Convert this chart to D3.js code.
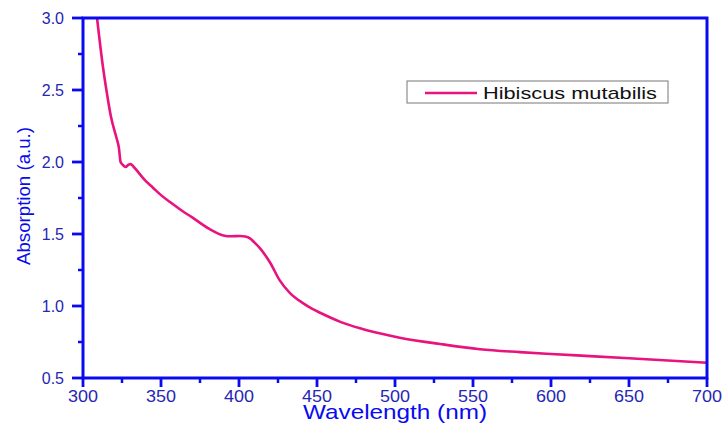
<!DOCTYPE html>
<html lang="en">
<head>
  <meta charset="utf-8">
  <title>Hibiscus mutabilis absorption</title>
  <script src="https://d3js.org/d3.v7.min.js"></script>
  <style>
    body { margin: 0; background: #fff; }
    svg { display: block; font-family: "Liberation Sans", Arial, sans-serif; }
  </style>
</head>
<body>
  <svg width="722" height="423"></svg>
  <script>
    // spectrum
    const wavelength = [309, 312.8, 315, 318, 321.4, 323, 324.1, 325.5, 327.4, 329, 330.6, 333, 340, 345, 350, 356,
      363, 370, 381, 390, 395, 400.6, 404, 407, 410, 413.5, 420, 426, 432.7, 441, 447, 452, 465, 477.6, 490, 503, 529, 554.5,
      580, 600, 625, 650, 675, 700];
    const absorption = [3.0, 2.66, 2.5, 2.31, 2.17, 2.1, 2.0, 1.98, 1.965, 1.98, 1.985, 1.96, 1.87, 1.82, 1.77, 1.72,
      1.665, 1.615, 1.535, 1.49, 1.484, 1.486, 1.482, 1.47, 1.44, 1.40, 1.30, 1.18, 1.09, 1.02, 0.98, 0.953, 0.89, 0.845, 0.81, 0.78,
      0.736, 0.70, 0.68, 0.667, 0.652, 0.637, 0.622, 0.606];
    const xTicks = [300, 350, 400, 450, 500, 550, 600, 650, 700];
    const yTicks = [0.5, 1.0, 1.5, 2.0, 2.5, 3.0];
    const seriesName = "Hibiscus mutabilis";

    const svg = d3.select("svg");
    const mLeft = 83, mRight = 707, mTop = 18, mBottom = 378;
    const axisColor = "#0a0af0", labelColor = "#2626b4", lineColor = "#e8137c";

    const x = d3.scaleLinear().domain([300, 700]).range([mLeft, mRight]);
    const y = d3.scaleLinear().domain([0.5, 3.0]).range([mBottom, mTop]);

    // curve (clipped to frame)
    svg.append("clipPath").attr("id", "clip")
      .append("rect").attr("x", mLeft).attr("y", mTop).attr("width", mRight - mLeft).attr("height", mBottom - mTop);

    const data = wavelength.map((w, i) => [w, absorption[i]]);
    svg.append("path")
      .datum(data)
      .attr("clip-path", "url(#clip)")
      .attr("fill", "none")
      .attr("stroke", lineColor)
      .attr("stroke-width", 2.6)
      .attr("stroke-linejoin", "round")
      .attr("d", d3.line().x(d => x(d[0])).y(d => y(d[1])).curve(d3.curveMonotoneX));

    // minor ticks
    const xMinor = d3.range(325, 700, 50);
    const yMinor = d3.range(0.75, 3.0, 0.5);
    svg.selectAll(".xminor").data(xMinor).join("line")
      .attr("x1", d => x(d)).attr("x2", d => x(d)).attr("y1", mBottom).attr("y2", mBottom + 5)
      .attr("stroke", axisColor).attr("stroke-width", 2.5);
    svg.selectAll(".yminor").data(yMinor).join("line")
      .attr("x1", mLeft - 5).attr("x2", mLeft).attr("y1", d => y(d)).attr("y2", d => y(d))
      .attr("stroke", axisColor).attr("stroke-width", 2.5);

    // major ticks
    svg.selectAll(".xmajor").data(xTicks).join("line")
      .attr("x1", d => x(d)).attr("x2", d => x(d)).attr("y1", mBottom).attr("y2", mBottom + 9)
      .attr("stroke", axisColor).attr("stroke-width", 2.8);
    svg.selectAll(".ymajor").data(yTicks).join("line")
      .attr("x1", mLeft - 11).attr("x2", mLeft).attr("y1", d => y(d)).attr("y2", d => y(d))
      .attr("stroke", axisColor).attr("stroke-width", 2.8);

    // frame
    svg.append("rect")
      .attr("x", mLeft).attr("y", mTop).attr("width", mRight - mLeft).attr("height", mBottom - mTop)
      .attr("fill", "none").attr("stroke", axisColor).attr("stroke-width", 3);

    // tick labels
    svg.selectAll(".xlab").data(xTicks).join("text")
      .attr("x", d => x(d)).attr("y", 402)
      .attr("text-anchor", "middle").attr("font-size", 16).attr("fill", labelColor)
      .attr("textLength", 30).attr("lengthAdjust", "spacingAndGlyphs")
      .text(d => d);
    svg.selectAll(".ylab").data(yTicks).join("text")
      .attr("x", 64).attr("y", d => y(d) + 6)
      .attr("text-anchor", "end").attr("font-size", 16).attr("fill", labelColor)
      .text(d => d.toFixed(1));

    // axis titles
    svg.append("text")
      .attr("x", 395).attr("y", 419)
      .attr("text-anchor", "middle").attr("font-size", 21).attr("fill", axisColor)
      .attr("textLength", 184).attr("lengthAdjust", "spacingAndGlyphs")
      .text("Wavelength (nm)");
    svg.append("text")
      .attr("transform", "translate(30,196) rotate(-90)")
      .attr("text-anchor", "middle").attr("font-size", 19).attr("fill", axisColor)
      .attr("textLength", 138).attr("lengthAdjust", "spacingAndGlyphs")
      .text("Absorption (a.u.)");

    // legend
    const lg = svg.append("g");
    lg.append("rect").attr("x", 407).attr("y", 81).attr("width", 261).attr("height", 22)
      .attr("fill", "#fff").attr("stroke", "#777").attr("stroke-width", 1);
    lg.append("line").attr("x1", 425).attr("x2", 477).attr("y1", 93).attr("y2", 93)
      .attr("stroke", lineColor).attr("stroke-width", 2.6);
    lg.append("text").attr("x", 483).attr("y", 98.5).attr("font-size", 17).attr("fill", "#111")
      .attr("textLength", 174).attr("lengthAdjust", "spacingAndGlyphs")
      .text(seriesName);
  </script>
</body>
</html>
